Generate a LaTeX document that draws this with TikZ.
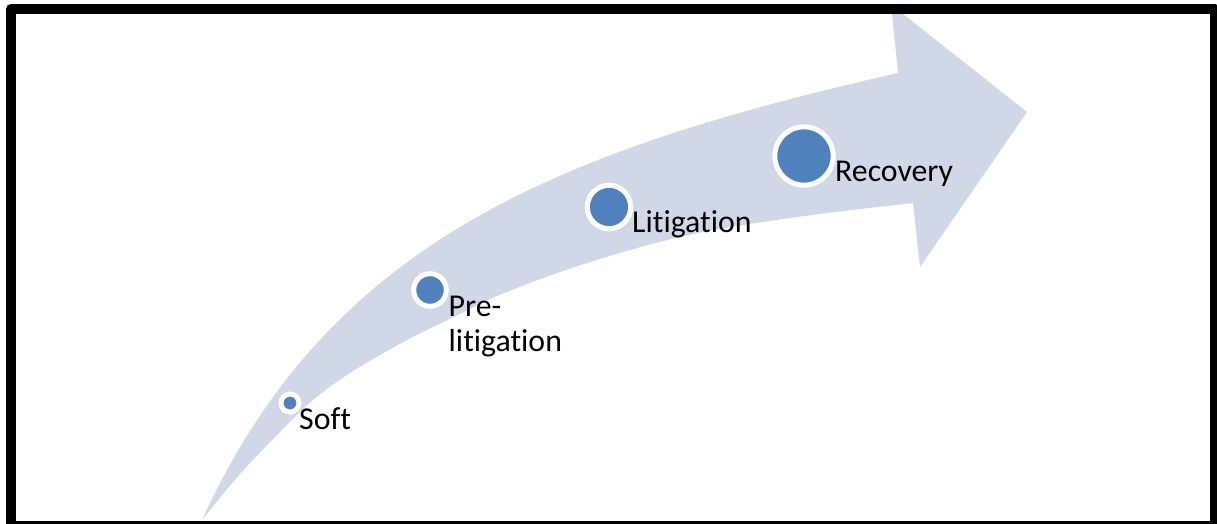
\documentclass[tikz,border=0pt]{standalone}
\usepackage{fontspec}
\setmainfont[RawFeature={-liga;-clig;-dlig}]{Carlito}
\definecolor{swoosh}{RGB}{208,216,232}
\definecolor{stageblue}{RGB}{79,129,189}
\begin{document}
\begin{tikzpicture}[x=1pt,y=-1pt,
  stagedot/.style={circle, fill=stageblue, draw=white, line width=5pt, inner sep=0pt},
  stagetext/.style={anchor=base west, inner sep=0pt, font=\fontsize{31.8}{35}\selectfont}]
  \useasboundingbox (0,0) rectangle (1217,524);
  \clip (0,0) rectangle (1217,524);
  \fill[white] (0,0) rectangle (1217,524);

  % rising swoosh arrow
  \fill[swoosh] (202,520) .. controls (330,240) and (560,150) .. (898,73)
    -- (891,4.5) -- (1027,112) -- (920,267) -- (913,203)
    -- plot[smooth, tension=0.6] coordinates {(913,203) (827,213) (750,224) (693,234)
       (630,250) (563,271) (497,296) (460,314) (413,337) (380,355) (347,375)
       (313,400) (280,432) (240,474) (202,520)}
    -- cycle;

  % stages
  \node[stagedot, minimum size=18pt]   (soft) at (290,403) {};
  \node[stagedot, minimum size=32.6pt] (pre)  at (430,290) {};
  \node[stagedot, minimum size=43.4pt] (lit)  at (609,207) {};
  \node[stagedot, minimum size=58.4pt] (rec)  at (804,156) {};

  \node[stagetext] (softtxt) at (299,429) {Soft};
  \node[stagetext] (pretxt)  at (448.5,316.5) {Pre-};
  \node[stagetext] (pretxtb) at (448.5,351.5) {litigation};
  \node[stagetext] (littxt)  at (632,232.5) {Litigation};
  \node[stagetext] (rectxt)  at (835,181.5) {Recovery};

  % frame
  \draw[line width=10pt, line join=round] (11,9) rectangle (1215,526);
\end{tikzpicture}
\end{document}
